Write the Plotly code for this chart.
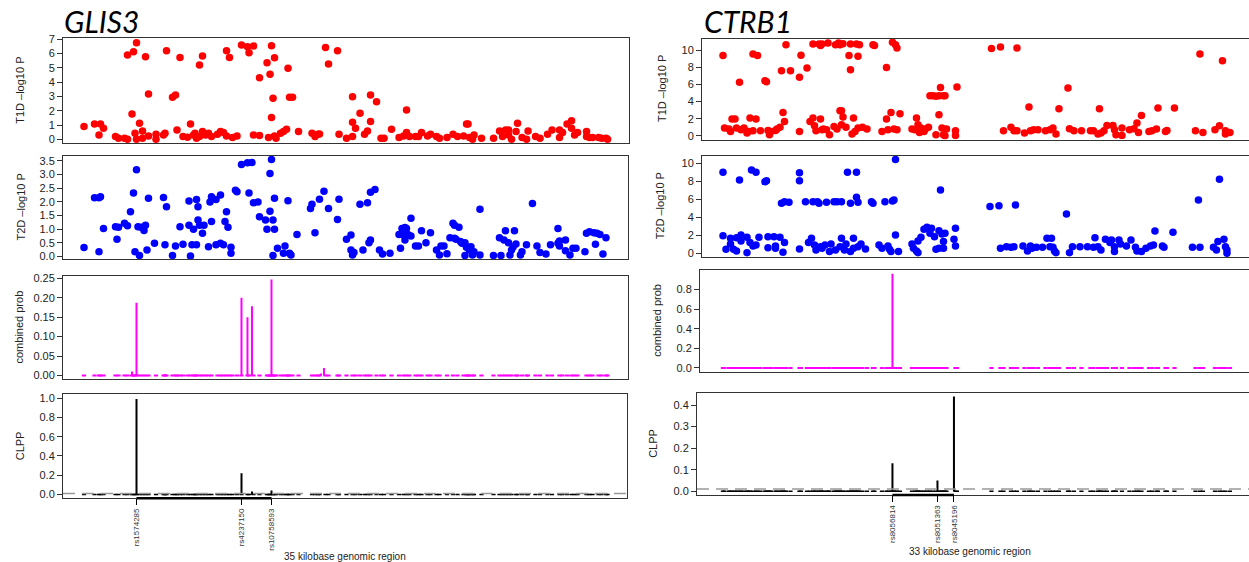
import plotly.graph_objects as go

# ---------------- data (positions in kb from start of region) ----------------
GLIS3_T1D = [(0.0,0.89),(0.7,1.07),(1.1,1.07),(1.0,0.30),(1.3,0.77),(2.1,0.19),(2.3,0.07),(2.7,0.07),(2.9,0.0),(2.9,5.9),
(3.2,1.77),(3.3,6.13),(3.4,0.42),(3.5,6.76),(3.5,0.0),(3.7,1.12),(3.9,0.58),(3.9,0.07),(4.1,5.78),(4.3,3.17),
(4.3,0.23),(4.8,0.35),(4.8,0.0),(5.3,0.30),(5.4,0.42),(5.5,6.2),(5.9,2.94),(6.1,3.1),(6.2,0.65),(6.4,5.73),
(6.6,0.19),(6.9,0.14),(7.1,1.07),(7.3,0.30),(7.4,0.42),(7.5,0.07),(7.7,5.2),(7.7,0.19),(7.9,5.83),(7.9,0.54),
(8.1,0.30),(8.3,0.42),(8.5,0.19),(8.9,0.35),(9.1,0.54),(9.3,0.47),(9.5,0.23),(9.5,6.2),(9.7,5.73),(9.9,0.12),
(10.2,0.23),(10.5,6.6),(10.9,6.48),(11.0,6.06),(11.3,6.53),(11.3,0.30),(11.7,4.31),(11.7,0.26),(12.2,5.36),(12.3,0.12),
(12.4,4.55),(12.5,1.52),(12.5,6.55),(12.6,2.87),(12.7,5.71),(12.7,0.23),(12.8,0.07),(13.1,0.42),(13.3,0.54),(13.5,0.70),
(13.6,4.97),(13.7,2.94),(13.9,2.94),(14.3,0.54),(15.2,0.42),(15.4,0.19),(15.6,0.35),(15.7,0.37),(16.1,6.43),(16.3,5.27),
(16.9,6.2),(17.0,0.35),(17.5,0.07),(17.9,0.19),(17.9,1.19),(17.9,2.98),(18.1,0.77),(18.4,1.82),(18.7,0.35),(18.9,0.58),
(19.1,1.24),(19.1,3.1),(19.5,2.63),(19.8,0.07),(20.0,0.07),(20.5,0.70),(21.0,0.12),(21.3,0.23),(21.5,2.05),(21.5,0.47),
(21.7,0.19),(22.1,0.19),(22.3,0.19),(22.5,0.47),(22.9,0.23),(23.1,0.35),(23.5,0.19),(23.7,0.07),(24.2,0.12),(24.6,0.35),
(24.9,0.19),(25.3,0.23),(25.5,1.07),(25.6,1.07),(25.7,0.12),(25.9,0.0),(26.0,0.30),(26.5,0.07),(27.3,0.07),(27.7,0.58),
(27.9,0.19),(28.1,0.65),(28.3,0.65),(28.3,0.30),(28.5,0.0),(28.8,0.54),(28.9,1.12),(29.2,0.12),(29.5,0.0),(29.6,0.58),
(30.1,0.19),(30.4,0.07),(30.9,0.35),(31.2,0.65),(31.7,0.65),(31.7,0.12),(31.9,0.47),(32.2,1.07),(32.5,1.30),(32.5,0.77),
(32.7,0.30),(32.9,0.47),(33.5,0.54),(33.5,0.19),(33.7,0.12),(33.9,0.12),(34.3,0.12),(34.5,0.07),(34.8,0.07),(34.9,0.0)]

GLIS3_T2D = [(0.0,0.33),(0.7,2.15),(1.0,2.15),(1.1,2.19),(1.0,0.18),(1.3,1.03),(2.1,1.09),(2.2,0.63),(2.3,1.07),(2.7,1.22),
(2.9,1.13),(3.1,1.64),(3.3,2.33),(3.4,0.18),(3.5,3.18),(3.6,1.09),(3.7,0.04),(3.8,1.07),(4.0,0.95),(4.1,1.15),
(4.2,0.24),(4.3,2.13),(4.7,0.49),(5.3,2.16),(5.4,0.43),(5.5,1.82),(5.9,0.04),(6.1,0.39),(6.4,1.09),(6.6,0.45),
(7.0,2.03),(7.0,1.15),(7.1,0.02),(7.2,0.43),(7.3,1.00),(7.5,0.43),(7.5,2.09),(7.6,1.82),(7.6,1.34),(7.7,1.15),
(7.9,0.85),(8.0,1.15),(8.3,0.36),(8.4,2.00),(8.5,1.28),(8.5,2.19),(8.8,2.09),(8.8,0.43),(9.1,2.25),(9.1,0.49),
(9.3,0.43),(9.4,1.28),(9.5,1.64),(9.6,1.07),(9.8,0.12),(9.8,0.34),(10.1,2.43),(10.2,2.37),(10.5,3.37),(10.9,3.43),
(11.2,3.44),(11.0,2.33),(11.3,1.97),(11.6,2.00),(11.7,1.46),(12.1,1.34),(12.2,1.00),(12.4,3.04),(12.4,1.66),(12.5,3.55),
(12.6,1.34),(12.6,0.04),(12.7,2.13),(12.7,1.00),(12.9,0.30),(13.3,0.12),(13.4,0.39),(13.6,2.04),(13.7,0.12),(13.8,0.06),
(14.2,0.81),(15.1,1.76),(15.2,1.91),(15.4,0.87),(15.7,2.10),(16.0,2.39),(16.3,1.76),(16.9,1.36),(17.0,2.10),(17.5,0.63),
(17.8,0.79),(17.8,0.24),(17.9,0.06),(18.0,0.15),(18.4,1.91),(18.6,0.24),(18.9,1.97),(19.0,0.51),(19.1,0.61),(19.1,2.35),
(19.4,2.45),(19.7,0.24),(19.9,0.09),(20.4,0.12),(21.1,0.30),(21.0,0.81),(21.2,1.03),(21.4,1.06),(21.5,1.03),(21.2,0.81),
(21.4,0.61),(21.6,0.81),(21.8,1.40),(21.8,0.75),(22.1,0.39),(22.3,0.39),(22.5,0.94),(22.8,0.51),(23.1,0.87),(23.5,0.24),
(23.7,0.06),(23.8,0.39),(24.0,0.39),(24.2,0.10),(24.4,0.69),(24.6,1.22),(24.7,1.15),(25.0,1.07),(24.7,0.67),(24.8,0.63),
(25.1,0.55),(25.2,0.49),(25.4,0.51),(25.5,0.34),(25.4,0.04),(25.6,0.34),(25.7,0.24),(25.8,0.36),(25.9,0.06),(26.0,0.18),
(26.4,1.73),(26.4,0.06),(27.3,0.04),(27.7,0.69),(27.8,0.04),(28.0,0.61),(28.1,0.94),(28.3,0.51),(28.4,0.06),(28.5,0.24),
(28.6,0.34),(28.7,0.94),(28.8,0.46),(29.1,0.06),(29.2,0.18),(29.5,0.43),(29.9,1.94),(30.2,0.39),(30.4,0.15),(30.8,0.09),
(31.1,0.43),(31.6,1.03),(31.6,0.49),(31.7,0.39),(31.7,0.57),(32.1,0.61),(32.1,0.21),(32.4,0.06),(32.6,0.30),(32.8,0.30),
(33.4,0.18),(33.5,0.85),(33.7,0.91),(34.0,0.87),(34.2,0.85),(34.1,0.45),(34.4,0.81),(34.6,0.09),(34.8,0.69)]

GLIS3_PROB_PEAKS = [(3.2,0.010),(3.5,0.187),(5.4,0.004),(10.5,0.200),(10.9,0.150),(11.2,0.178),(12.5,0.247),(15.8,0.005),(16.0,0.019)]
GLIS3_CLPP_PEAKS = [(3.5,0.99),(10.5,0.22),(11.2,0.03),(12.5,0.042)]
GLIS3_SNPS = [("rs1574285",3.5),("rs4237150",10.5),("rs10758593",12.5)]

CTRB1_T1D = [(0.0,9.38),(0.1,0.90),(0.4,0.78),(0.5,0.50),(0.6,1.95),(0.8,1.95),(0.9,0.90),(1.1,6.25),(1.2,0.70),(1.4,0.90),
(1.6,0.31),(1.7,0.50),(1.8,2.07),(2.0,9.57),(2.0,0.59),(2.2,1.95),(2.3,9.38),(2.5,0.59),(2.8,6.45),(2.9,6.33),
(3.0,0.62),(3.1,0.12),(3.2,0.50),(3.5,0.62),(3.6,0.78),(3.8,1.00),(3.9,7.60),(4.0,2.73),(4.1,1.68),(4.2,10.66),
(4.5,7.60),(5.1,0.50),(5.1,6.84),(5.2,9.41),(5.6,7.93),(5.8,1.68),(6.0,2.07),(6.0,10.74),(6.1,1.17),(6.2,0.59),
(6.4,10.74),(6.5,10.55),(6.5,1.95),(6.6,0.70),(6.6,10.74),(6.7,0.78),(6.9,0.70),(7.0,10.86),(7.1,0.12),(7.4,1.09),
(7.5,10.66),(7.6,0.78),(7.7,10.86),(7.8,2.93),(7.8,10.66),(7.9,1.29),(7.9,2.93),(8.0,2.19),(8.0,10.78),(8.2,1.00),
(8.4,9.38),(8.5,10.74),(8.5,7.73),(8.6,0.20),(8.7,2.07),(8.8,0.50),(8.9,10.74),(9.0,9.30),(9.0,0.90),(9.1,10.66),
(9.3,1.00),(9.6,0.78),(10.0,10.66),(10.1,10.55),(10.6,0.50),(10.9,8.00),(10.9,1.95),(11.0,0.70),(11.2,2.73),(11.3,10.94),
(11.4,0.78),(11.5,10.66),(11.6,10.27),(11.6,0.70),(11.8,2.58),(12.6,0.78),(12.8,0.70),(12.9,2.07),(13.0,1.29),(13.1,0.39),
(13.2,0.90),(13.4,0.50),(13.5,0.78),(13.7,0.98),(13.8,4.69),(14.0,4.69),(14.2,0.12),(14.2,4.61),(14.4,2.46),(14.4,4.69),
(14.5,5.66),(14.6,0.90),(14.7,4.69),(14.8,4.69),(14.9,0.78),(14.8,0.00),(14.7,0.12),(15.5,0.59),(15.5,0.04),(15.6,5.70),
(17.9,10.20),(18.5,10.39),(18.7,0.59),(19.2,0.98),(19.4,0.59),(19.6,10.27),(19.6,0.59),(20.1,0.31),(20.4,3.36),(20.5,0.59),
(20.7,0.70),(21.0,0.70),(21.5,0.59),(21.8,0.70),(22.0,0.90),(22.2,0.20),(22.4,3.16),(23.0,5.59),(23.1,0.82),(23.4,0.59),
(23.9,0.59),(24.5,0.59),(24.7,0.59),(25.0,0.20),(25.1,3.16),(25.2,0.31),(25.4,0.59),(25.6,1.21),(26.0,1.21),(26.1,0.70),
(26.2,0.12),(26.6,0.90),(26.6,0.04),(27.1,0.70),(27.4,0.82),(27.6,1.48),(27.7,0.39),(27.9,2.38),(28.4,0.50),(28.6,0.59),
(28.9,0.78),(29.0,3.24),(29.5,0.50),(29.6,0.62),(30.1,3.24),(31.5,0.59),(31.8,9.57),(32.0,0.39),(32.8,0.70),(33.1,1.17),
(33.3,8.79),(33.5,0.20),(33.5,0.59),(33.8,0.39)]

CTRB1_T2D = [(0.0,9.00),(0.0,1.96),(0.2,0.44),(0.5,1.04),(0.5,1.67),(0.7,0.44),(0.9,1.74),(0.9,0.26),(1.1,8.15),(1.2,2.04),
(1.2,1.37),(1.6,1.78),(1.6,0.07),(1.8,1.19),(1.9,9.26),(2.0,0.81),(2.2,9.00),(2.2,0.93),(2.4,1.78),(2.8,7.96),
(2.9,8.07),(3.0,1.85),(3.0,0.63),(3.4,1.85),(3.5,0.56),(3.5,0.81),(3.8,1.78),(3.9,5.56),(4.0,0.11),(4.1,1.19),
(4.1,5.74),(4.4,5.67),(5.1,8.07),(5.1,8.96),(5.1,0.48),(5.5,5.74),(5.7,1.19),(5.9,1.67),(6.0,5.74),(6.1,0.93),
(6.2,0.37),(6.3,5.74),(6.4,5.56),(6.5,0.74),(6.6,0.56),(6.8,0.93),(6.9,5.67),(7.1,0.19),(7.2,1.04),(7.4,5.74),
(7.5,0.37),(7.6,5.74),(7.8,0.74),(7.9,1.67),(7.9,5.74),(8.1,0.37),(8.2,1.04),(8.3,9.00),(8.5,5.56),(8.5,0.19),
(8.7,1.67),(8.7,0.56),(8.9,6.22),(8.9,9.00),(9.0,5.67),(9.0,0.74),(9.2,1.04),(9.5,0.48),(9.9,5.74),(10.0,5.56),
(10.4,0.93),(10.6,0.56),(10.8,5.74),(11.0,0.81),(11.1,0.44),(11.2,0.19),(11.3,5.81),(11.4,5.93),(11.5,2.04),(11.5,10.44),
(11.7,0.19),(12.6,1.04),(12.7,0.56),(12.9,0.26),(13.0,0.07),(13.0,1.37),(13.2,1.78),(13.4,2.67),(13.6,2.89),(13.8,2.22),
(13.9,2.78),(14.1,1.85),(14.2,0.44),(14.4,2.52),(14.4,0.56),(14.5,7.04),(14.6,2.15),(14.7,0.56),(14.8,2.22),(14.7,1.30),
(15.4,1.56),(15.5,0.81),(15.5,2.78),(17.8,5.19),(18.4,5.30),(18.5,0.56),(18.9,0.74),(19.2,0.67),(19.4,0.74),(19.5,5.37),
(20.0,0.81),(20.3,0.26),(20.5,0.81),(20.6,0.56),(20.9,0.67),(21.3,0.67),(21.6,1.67),(21.8,0.74),(21.9,1.67),(22.0,0.67),
(22.1,0.26),(22.2,0.07),(22.9,4.37),(23.1,0.07),(23.3,0.74),(23.8,0.74),(24.3,0.74),(24.7,0.67),(24.8,1.74),(25.0,0.74),
(25.2,0.37),(25.5,1.56),(25.8,1.19),(25.9,1.48),(26.1,0.74),(26.1,0.19),(26.4,1.48),(26.5,1.04),(26.9,0.81),(27.2,1.48),
(27.5,0.67),(27.6,0.26),(27.9,0.19),(28.2,0.56),(28.5,0.81),(28.7,0.93),(28.8,2.48),(29.3,0.81),(29.4,0.67),(30.0,2.33),
(31.3,0.67),(31.7,5.93),(31.8,0.67),(32.7,0.67),(32.9,0.37),(33.0,1.30),(33.1,8.22),(33.4,1.56),(33.5,0.74),(33.6,0.37),
(33.6,0.00)]

CTRB1_PROB_PEAKS = [(11.3,0.96)]
CTRB1_CLPP_PEAKS = [(11.3,0.13),(14.3,0.05),(15.4,0.44)]
CTRB1_SNPS = [("rs8056814",11.3),("rs8051363",14.3),("rs8045196",15.4)]

CLPP_THRESHOLD = 0.01
GENES = ["GLIS3", "CTRB1"]
REGION_LABELS = ["35 kilobase genomic region", "33 kilobase genomic region"]
YTITLES = ["T1D \u2013log10 P", "T2D \u2013log10 P", "combined prob", "CLPP"]

# ---------------- layout helpers ----------------
W, H = 1249, 562
def fx(p):
    return p / W
def fy(p):
    return 1 - p / H

RED, BLUE, MAG, BLK = "#FF0000", "#0000FF", "#FF00FF", "#000000"
AX = "#333333"
FONT = "Liberation Sans, Arial, Helvetica, sans-serif"

# panel specs: (x px domain, y px domain (top,bottom), x range, y range, y ticks, tick format)
panels = [
    ((63, 629), (38.3, 143.3), [-1.4, 36.33], [-0.28, 7.07], list(range(0, 8)), "d"),
    ((63, 628), (155.7, 259.3), [-1.4, 36.27], [-0.1, 3.69], [0, 0.5, 1, 1.5, 2, 2.5, 3, 3.5], ".1f"),
    ((63, 628), (275.7, 379.3), [-1.4, 36.27], [-0.0099, 0.257], [0, 0.05, 0.1, 0.15, 0.2, 0.25], ".2f"),
    ((63, 627), (394.3, 498.3), [-1.4, 36.2], [-0.04, 1.04], [0, 0.2, 0.4, 0.6, 0.8, 1.0], ".1f"),
    ((702, 1249), (38.5, 139.5), [-1.4, 35.07], [-0.44, 11.38], [0, 2, 4, 6, 8, 10], "d"),
    ((702, 1249), (155.6, 257.1), [-1.4, 35.07], [-0.42, 10.86], [0, 2, 4, 6, 8, 10], "d"),
    ((700, 1249), (270.0, 371.7), [-1.53, 35.07], [-0.038, 0.998], [0, 0.2, 0.4, 0.6, 0.8], ".1f"),
    ((697, 1249), (392.7, 495.0), [-1.73, 35.07], [-0.0176, 0.4576], [0, 0.1, 0.2, 0.3, 0.4], ".1f"),
]
ytitle_x = [20, 20, 18, 20, 662, 660, 657, 653]

fig = go.Figure()

def ax(k):
    return ("x" if k == 1 else f"x{k}"), ("y" if k == 1 else f"y{k}")

def spikes(peaks):
    xs, ys = [], []
    for p, v in peaks:
        xs += [p, p, None]
        ys += [0, v, None]
    return xs, ys

loci = [
    (GLIS3_T1D, GLIS3_T2D, GLIS3_PROB_PEAKS, GLIS3_CLPP_PEAKS, GLIS3_SNPS),
    (CTRB1_T1D, CTRB1_T2D, CTRB1_PROB_PEAKS, CTRB1_CLPP_PEAKS, CTRB1_SNPS),
]

shapes = []
for li, (t1d, t2d, prob, clpp, snps) in enumerate(loci):
    base = 4 * li
    snp_pos = sorted(set(p for p, _ in t1d))
    # T1D
    xa, ya = ax(base + 1)
    fig.add_trace(go.Scatter(x=[p for p, _ in t1d], y=[v for _, v in t1d], mode="markers",
                             marker=dict(color=RED, size=7.5, line=dict(width=0)),
                             xaxis=xa, yaxis=ya, hoverinfo="skip"))
    # T2D
    xa, ya = ax(base + 2)
    fig.add_trace(go.Scatter(x=[p for p, _ in t2d], y=[v for _, v in t2d], mode="markers",
                             marker=dict(color=BLUE, size=7.5, line=dict(width=0)),
                             xaxis=xa, yaxis=ya, hoverinfo="skip"))
    # combined prob
    xa, ya = ax(base + 3)
    fig.add_trace(go.Scatter(x=snp_pos, y=[0] * len(snp_pos), mode="markers",
                             marker=dict(symbol="line-ew", size=3, color=MAG, line=dict(width=2, color=MAG)),
                             xaxis=xa, yaxis=ya, hoverinfo="skip"))
    sx, sy = spikes(prob)
    fig.add_trace(go.Scatter(x=sx, y=sy, mode="lines", line=dict(color=MAG, width=2),
                             xaxis=xa, yaxis=ya, hoverinfo="skip"))
    # CLPP
    xa, ya = ax(base + 4)
    fig.add_trace(go.Scatter(x=snp_pos, y=[0] * len(snp_pos), mode="markers",
                             marker=dict(symbol="line-ew", size=3, color=BLK, line=dict(width=1.5, color=BLK)),
                             xaxis=xa, yaxis=ya, hoverinfo="skip"))
    sx, sy = spikes(clpp)
    fig.add_trace(go.Scatter(x=sx, y=sy, mode="lines", line=dict(color=BLK, width=2),
                             xaxis=xa, yaxis=ya, hoverinfo="skip"))
    shapes.append(dict(type="line", xref=f"{xa} domain", yref=ya, x0=0, x1=1,
                       y0=CLPP_THRESHOLD, y1=CLPP_THRESHOLD,
                       line=dict(color="#999999", width=1.5, dash="12px,7px")))
    tick_pos = [p for _, p in snps]
    shapes.append(dict(type="line", xref=xa, yref=f"{ya} domain", x0=min(tick_pos), x1=max(tick_pos),
                       y0=0, y1=0, line=dict(color=BLK, width=2.5)))

layout = dict(width=W, height=H, margin=dict(l=0, r=0, t=0, b=0), showlegend=False,
              paper_bgcolor="white", plot_bgcolor="white", template="none",
              font=dict(family=FONT, color="#222222", size=11))

for k, (xd, yd, xr, yr, yt, fmt) in enumerate(panels, start=1):
    right_col = k > 4
    is_clpp = k in (4, 8)
    snps = loci[1 if right_col else 0][4]
    xkey = "xaxis" if k == 1 else f"xaxis{k}"
    ykey = "yaxis" if k == 1 else f"yaxis{k}"
    xa, ya = ax(k)
    xd_f = [fx(xd[0]), min(1.0, fx(xd[1]))]
    yd_f = [fy(yd[1]), fy(yd[0])]
    xdict = dict(domain=xd_f, range=xr, anchor=ya, showgrid=False, zeroline=False,
                 showline=True, linecolor=AX, linewidth=1, mirror=True, automargin=False)
    if is_clpp:
        xdict.update(tickmode="array", tickvals=[p for _, p in snps], ticktext=[n for n, _ in snps],
                     ticks="outside", ticklen=6, tickwidth=1, tickcolor=BLK, tickangle=-90,
                     tickfont=dict(size=8, color="#333333", family=FONT), showticklabels=True)
    else:
        xdict.update(showticklabels=False, ticks="")
    ydict = dict(domain=yd_f, range=yr, anchor=xa, showgrid=False, zeroline=False,
                 showline=True, linecolor=AX, linewidth=1, mirror=(not right_col),
                 tickmode="array", tickvals=yt, tickformat=fmt, ticks="outside", ticklen=5,
                 tickwidth=1, tickcolor=AX, tickfont=dict(size=11, color="#222222", family=FONT),
                 automargin=False)
    layout[xkey] = xdict
    layout[ykey] = ydict

annotations = []
for k, (xd, yd, xr, yr, yt, fmt) in enumerate(panels, start=1):
    annotations.append(dict(text=YTITLES[(k - 1) % 4], x=fx(ytitle_x[k - 1]), y=fy((yd[0] + yd[1]) / 2),
                            xref="paper", yref="paper", showarrow=False, textangle=-90,
                            xanchor="center", yanchor="middle",
                            font=dict(size=11, color="#222222", family=FONT)))
annotations.append(dict(text=GENES[0], x=fx(62), y=fy(41), xref="paper", yref="paper", showarrow=False,
                        xanchor="left", yanchor="bottom",
                        font=dict(size=30, color="black", family="Lato, Open Sans, sans-serif", style="italic")))
annotations.append(dict(text=GENES[1], x=fx(702), y=fy(41), xref="paper", yref="paper", showarrow=False,
                        xanchor="left", yanchor="bottom",
                        font=dict(size=30, color="black", family="Lato, Open Sans, sans-serif", style="italic")))
annotations.append(dict(text=REGION_LABELS[0], x=fx(345), y=fy(556), xref="paper", yref="paper",
                        showarrow=False, xanchor="center", yanchor="middle",
                        font=dict(size=10, color="#222222", family=FONT)))
annotations.append(dict(text=REGION_LABELS[1], x=fx(970), y=fy(551), xref="paper", yref="paper",
                        showarrow=False, xanchor="center", yanchor="middle",
                        font=dict(size=10, color="#222222", family=FONT)))

layout["annotations"] = annotations
layout["shapes"] = shapes
fig.update_layout(**layout)
fig.write_html("out.html",
               config={"displayModeBar": False, "staticPlot": True},
               post_script="document.body.style.margin='0';document.body.style.overflow='hidden';")
